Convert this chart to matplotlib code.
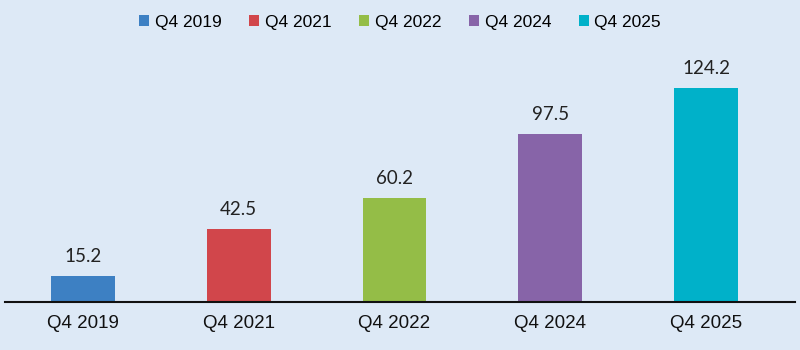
import matplotlib
matplotlib.use("Agg")
import matplotlib.pyplot as plt
from matplotlib.patches import Patch

categories = ["Q4 2019", "Q4 2021", "Q4 2022", "Q4 2024", "Q4 2025"]
values = [15.2, 42.5, 60.2, 97.5, 124.2]
colors = ["#3d80c3", "#d1464b", "#94bd47", "#8764a8", "#00b1c9"]
bg = "#dde9f6"

fig = plt.figure(figsize=(8, 3.5), dpi=100, facecolor=bg)
ax = fig.add_axes([5/800, 48/350, 790/800, 262/350], facecolor=bg)
x = list(range(len(categories)))
bars = ax.bar(x, values, width=0.41, color=colors, zorder=2)
for xi, v in zip(x, values):
    ax.annotate(f"{v}", (xi, v), xytext=(0, 8), textcoords="offset points",
                ha="center", va="bottom", fontsize=13.5, family="Lato", color="#222222")
ax.set_xlim(-0.5, 4.57)
ax.set_ylim(0, 152)
ax.set_xticks(x)
ax.set_xticklabels(categories, fontsize=13.5, family="Liberation Sans", color="#111111")
ax.tick_params(axis="x", length=0, pad=9)
ax.set_yticks([])
for s in ["top", "right", "left"]:
    ax.spines[s].set_visible(False)
ax.spines["bottom"].set_color("#111111")
ax.spines["bottom"].set_linewidth(1.5)

handles = [Patch(facecolor=c, edgecolor="none", label=l) for c, l in zip(colors, categories)]
fig.legend(handles=handles, loc="center", bbox_to_anchor=(0.5, 1 - 22/350), ncol=5,
           frameon=False, prop={"family": "Liberation Sans", "size": 12.5},
           handlelength=0.6, handleheight=0.6, handletextpad=0.3, columnspacing=1.6)
fig.savefig("out.png", dpi=100, facecolor=bg)
